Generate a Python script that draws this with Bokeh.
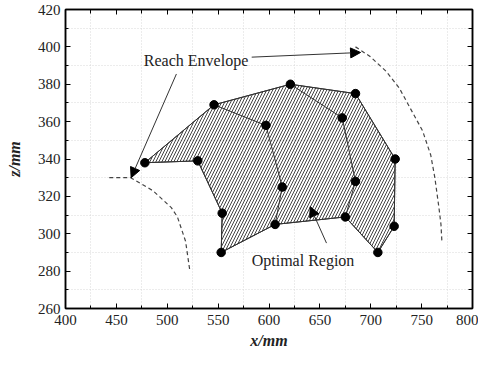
from bokeh.plotting import figure
from bokeh.models import (FixedTicker, LinearAxis, Arrow, NormalHead, Label, Range1d)
from bokeh.embed import file_html
from bokeh.resources import INLINE

# ---- data ----
x_ticks = [400, 450, 500, 550, 600, 650, 700, 750, 800]
x_minor = [425, 475, 525, 575, 625, 675, 725, 775]
z_ticks = [260, 280, 300, 320, 340, 360, 380, 400, 420]
z_minor = [270, 290, 310, 330, 350, 370, 390, 410]

rib1_x = [478, 530, 554, 553]
rib1_z = [338, 339, 311, 290]
rib2_x = [546, 597, 613, 606]
rib2_z = [369, 358, 325, 305]
rib3_x = [621, 672, 685, 675]
rib3_z = [380, 362, 328, 309]
rib4_x = [685, 724, 723, 707]
rib4_z = [375, 340, 304, 290]

env_left_x = [443, 464, 486, 504, 510, 518, 522]
env_left_z = [330, 330, 323, 314, 309, 296, 281]
env_right_x = [685, 699, 715, 728, 741, 751, 759, 763, 767, 769, 770]
env_right_z = [400, 395, 387, 378, 365, 355, 342, 330, 314, 305, 295]

label_reach = "Reach Envelope"
label_opt = "Optimal Region"

ribs_x = [rib1_x, rib2_x, rib3_x, rib4_x]
ribs_z = [rib1_z, rib2_z, rib3_z, rib4_z]

top_x = [r[0] for r in ribs_x]
top_z = [r[0] for r in ribs_z]
bot_x = [r[-1] for r in ribs_x]
bot_z = [r[-1] for r in ribs_z]

poly_x = top_x + rib4_x[1:] + bot_x[:-1][::-1] + rib1_x[1:-1][::-1]
poly_z = top_z + rib4_z[1:] + bot_z[:-1][::-1] + rib1_z[1:-1][::-1]

serif = "Liberation Serif"

p = figure(width=478, height=351, output_backend="svg", toolbar_location=None,
           x_range=Range1d(400, 800), y_range=Range1d(260, 420),
           x_axis_label="x/mm", y_axis_label="z/mm")
p.min_border_left = 65
p.min_border_right = 6
p.min_border_top = 9
p.min_border_bottom = 41
p.background_fill_color = "white"
p.outline_line_color = "black"
p.outline_line_width = 1.5

p.xaxis.ticker = FixedTicker(ticks=x_ticks, minor_ticks=x_minor)
p.yaxis.ticker = FixedTicker(ticks=z_ticks, minor_ticks=z_minor)

for ax in [p.xaxis[0], p.yaxis[0]]:
    ax.major_tick_in = 5
    ax.major_tick_out = 0
    ax.minor_tick_in = 3
    ax.minor_tick_out = 0
    ax.axis_line_width = 1.5
    ax.axis_line_color = "black"
    ax.major_tick_line_color = "black"
    ax.minor_tick_line_color = "black"
    ax.major_label_text_font = serif
    ax.major_label_text_font_size = "15px"
    ax.major_label_text_color = "#222222"
    ax.axis_label_text_font = serif
    ax.axis_label_text_font_size = "16px"
    ax.axis_label_text_font_style = "bold italic"
    ax.axis_label_text_color = "#222222"
p.xaxis.major_label_standoff = 6
p.xaxis.axis_label_standoff = 4
p.yaxis.major_label_standoff = 5
p.yaxis.axis_label_standoff = 12

for side in ["above", "right"]:
    ax = LinearAxis(ticker=FixedTicker(ticks=x_ticks if side == "above" else z_ticks,
                                       minor_ticks=x_minor if side == "above" else z_minor),
                    major_label_text_color=None,
                    major_label_text_font_size="0px",
                    major_tick_in=5, major_tick_out=0, minor_tick_in=4, minor_tick_out=0,
                    axis_line_width=1.5)
    p.add_layout(ax, side)

p.xgrid.grid_line_color = None
p.ygrid.grid_line_color = None
p.xgrid.ticker = FixedTicker(ticks=x_ticks, minor_ticks=x_minor)
p.ygrid.ticker = FixedTicker(ticks=z_ticks, minor_ticks=z_minor)
for g in [p.xgrid[0], p.ygrid[0]]:
    g.minor_grid_line_color = "#d9d9d9"
    g.minor_grid_line_dash = "1 2"
    g.minor_grid_line_width = 1

# hatched region
p.patch(poly_x, poly_z, fill_color="white", fill_alpha=0.0,
        hatch_pattern="/", hatch_color="#444444", hatch_scale=6, hatch_weight=1,
        line_color="#333333", line_width=1)

# mesh lines
for rx, rz in zip(ribs_x, ribs_z):
    p.line(rx, rz, line_color="#333333", line_width=1)
p.line(top_x, top_z, line_color="#333333", line_width=1)
p.line(bot_x, bot_z, line_color="#333333", line_width=1)

# points
all_x = sum(ribs_x, [])
all_z = sum(ribs_z, [])
p.scatter(all_x, all_z, size=8.5, fill_color="black", line_color="black")

# reach envelope
p.line(env_left_x, env_left_z, line_color="#444444", line_width=1.2, line_dash="4 3")
p.line(env_right_x, env_right_z, line_color="#444444", line_width=1.2, line_dash="4 3")

# labels and arrows
p.add_layout(Label(x=477, y=392.5, text=label_reach, text_font=serif,
                   text_font_size="16px", text_color="#222222",
                   text_baseline="middle", text_align="left"))
p.add_layout(Label(x=583, y=285.5, text=label_opt, text_font=serif,
                   text_font_size="16px", text_color="#222222",
                   text_baseline="middle", text_align="left"))

def head():
    return NormalHead(size=10, fill_color="black", line_color="black", line_width=1)

p.add_layout(Arrow(end=head(), x_start=509, y_start=385.5, x_end=464.5, y_end=330,
                   line_color="#333333", line_width=1))
p.add_layout(Arrow(end=head(), x_start=583, y_start=394.5, x_end=690, y_end=397,
                   line_color="#333333", line_width=1))
p.add_layout(Arrow(end=head(), x_start=656.5, y_start=295, x_end=640.5, y_end=314.5,
                   line_color="#333333", line_width=1))

open("out.html", "w").write(file_html(p, INLINE))
